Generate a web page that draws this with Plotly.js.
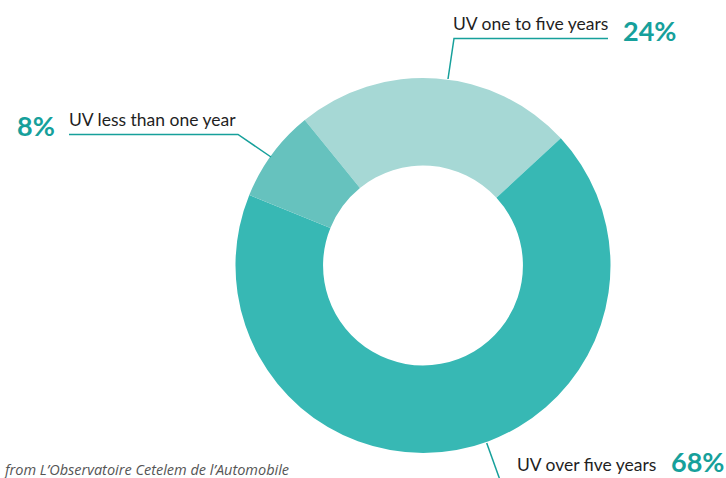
<!DOCTYPE html>
<html><head><meta charset="utf-8">
<script src="https://cdn.plot.ly/plotly-3.0.1.min.js"></script>
<style>html,body{margin:0;padding:0;background:#fff}#c{width:726px;height:478px}</style>
</head><body><div id="c"></div>
<script>
const categories = ["UV one to five years", "UV over five years", "UV less than one year"];
const values = [24, 68, 8];
const pctLabels = ["24%", "68%", "8%"];
const sliceColors = ["#a6d8d5", "#37b8b4", "#66c2be"];
const sourceText = "from L’Observatoire Cetelem de l’Automobile";

const W = 726, H = 478;
const px = x => x / W, py = y => 1 - y / H;
const teal = "#16a09b", dark = "#1f1f1f";
const lab = {family: "Lato, 'Open Sans', sans-serif", size: 17.5, color: dark};
const pct = {family: "Lato, 'Open Sans', sans-serif", size: 27, color: teal, weight: 700};

const data = [{
  type: "pie", values: values, labels: categories, hole: 0.533,
  sort: false, direction: "clockwise", rotation: -39.1,
  marker: {colors: sliceColors, line: {width: 0}},
  textinfo: "none", hoverinfo: "label+percent",
  domain: {x: [px(235), px(611)], y: [py(453), py(78)]}
}];

function line(pts) {
  return {type: "path", xref: "paper", yref: "paper",
    path: pts.map((p, i) => (i ? "L" : "M") + px(p[0]) + "," + py(p[1])).join(" "),
    line: {color: teal, width: 1.5}};
}

const layout = {
  width: W, height: H, margin: {l: 0, r: 0, t: 0, b: 0},
  paper_bgcolor: "#fff", showlegend: false,
  shapes: [
    line([[69, 134.5], [238, 134.5], [271, 157]]),
    line([[608, 38.5], [454, 38.5], [448, 79]]),
    line([[486.7, 443], [500, 480]])
  ],
  annotations: [
    {text: pctLabels[2], x: px(57), y: py(125), xanchor: "right", yanchor: "middle", font: pct},
    {text: categories[2], x: px(67), y: py(119), xanchor: "left", yanchor: "middle", font: lab},
    {text: categories[0], x: px(451), y: py(23.5), xanchor: "left", yanchor: "middle", font: lab},
    {text: pctLabels[0], x: px(621), y: py(30), xanchor: "left", yanchor: "middle", font: pct},
    {text: categories[1], x: px(515), y: py(464.5), xanchor: "left", yanchor: "middle", font: lab},
    {text: pctLabels[1], x: px(669), y: py(461.5), xanchor: "left", yanchor: "middle", font: pct},
    {text: sourceText, x: px(1), y: py(469), xanchor: "left", yanchor: "middle",
     font: {family: "'Open Sans', sans-serif", size: 14.5, color: "#555", style: "italic"}}
  ].map(a => Object.assign({xref: "paper", yref: "paper", showarrow: false}, a))
};

Plotly.newPlot("c", data, layout, {displayModeBar: false, staticPlot: true});
</script></body></html>
